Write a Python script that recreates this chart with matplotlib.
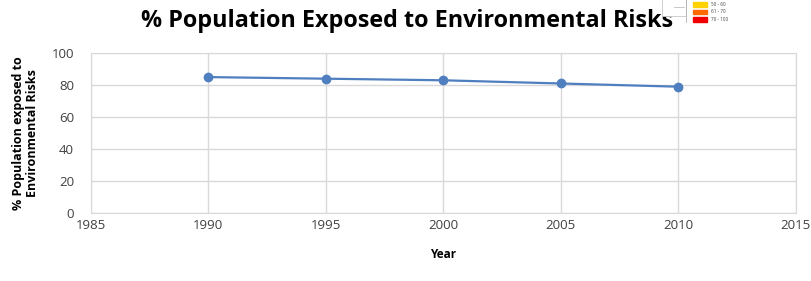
import matplotlib.pyplot as plt
from matplotlib.patches import Rectangle

# data
years = [1990, 1995, 2000, 2005, 2010]
exposed_pct = [85, 84, 83, 81, 79]
x_ticks = [1985, 1990, 1995, 2000, 2005, 2010, 2015]
y_ticks = [0, 20, 40, 60, 80, 100]

# stray legend fragment in the top right corner
legend_labels = ["50 - 60", "61 - 70", "70 - 100"]
legend_colors = ["#FFD200", "#FF6A00", "#F00000"]

plt.rcParams['font.family'] = ['Open Sans', 'DejaVu Sans']

fig = plt.figure(figsize=(8.11, 2.81), dpi=100)
ax = fig.add_axes([0.112, 0.242, 0.869, 0.569])

ax.plot(years, exposed_pct, '-o', color='#4F7FBF', lw=1.6, markersize=6)

ax.set_xlim(1985, 2015)
ax.set_ylim(0, 100)
ax.set_xticks(x_ticks)
ax.set_yticks(y_ticks)
ax.grid(True, color='#D9D9D9', lw=1)
ax.set_axisbelow(True)
for s in ax.spines.values():
    s.set_color('#D9D9D9')
ax.tick_params(length=0, labelsize=9.5, colors='#404040')
ax.tick_params(axis='y', pad=12)
ax.tick_params(axis='x', pad=4)

ax.set_xlabel('Year', fontsize=8.5, fontweight='bold', labelpad=12)
ax.set_ylabel('% Population exposed to\nEnvironmental Risks', fontsize=9,
              fontweight='bold', labelpad=9, linespacing=1.1)

fig.text(0.502, 0.925, '% Population Exposed to Environmental Risks',
         ha='center', va='center', fontsize=16.8, fontweight='bold', zorder=1)

# legend fragment, drawn on top of the title
fig.patches.append(Rectangle((662 / 811, 1 - 16 / 281), 24 / 811, 17 / 281,
                             transform=fig.transFigure, fc='white',
                             ec='#C8C8C8', lw=0.6, zorder=5))
fig.add_artist(plt.Line2D([686 / 811, 686 / 811], [1 - 22 / 281, 1.0],
                          transform=fig.transFigure, color='#B0B0B0', lw=0.6,
                          zorder=6))
fig.add_artist(plt.Line2D([674 / 811, 684 / 811], [1 - 7 / 281, 1 - 7 / 281],
                          transform=fig.transFigure, color='#B0B0B0', lw=0.5,
                          zorder=6))
for i, (lab, col) in enumerate(zip(legend_labels, legend_colors)):
    y0 = 1 - (2 + 7.5 * i + 4.5) / 281
    fig.patches.append(Rectangle((693 / 811, y0), 14 / 811, 4.5 / 281,
                                 transform=fig.transFigure, color=col,
                                 zorder=6))
    fig.text(711 / 811, y0 + 2.2 / 281, lab, fontsize=3.3, va='center',
             color='#404040', zorder=6)

fig.savefig('out.png', dpi=100)
